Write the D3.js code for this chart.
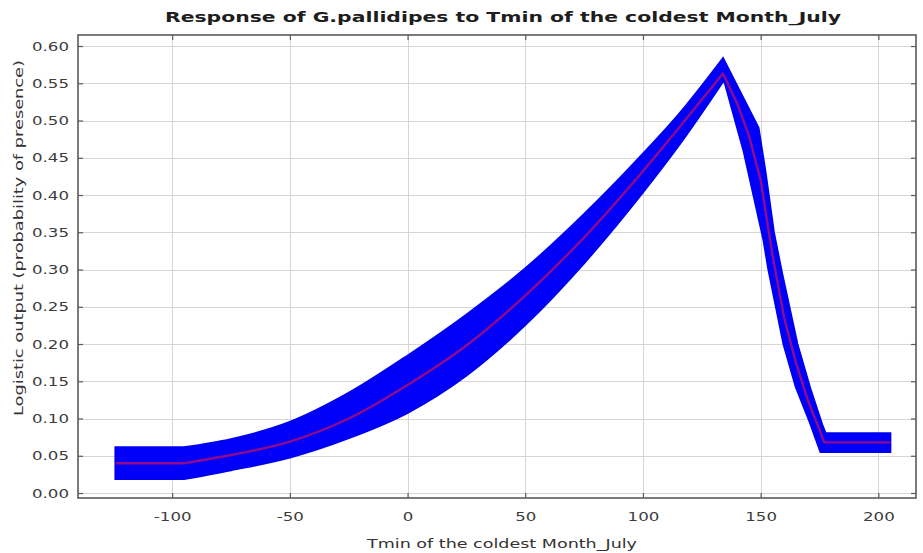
<!DOCTYPE html>
<html>
<head>
<meta charset="utf-8">
<script src="https://cdn.jsdelivr.net/npm/d3@7"></script>
<style>
  html, body { margin: 0; padding: 0; background: #fff; }
  svg { display: block; }
</style>
</head>
<body>
<svg id="chart" width="923" height="553"></svg>
<script>
// Response curve: mean logistic output (red) with +/- one standard deviation band (blue)
const chartTitle = "Response of G.pallidipes to Tmin of the coldest Month_July";
const xTitle = "Tmin of the coldest Month_July";
const yTitle = "Logistic output (probability of presence)";

const xTicks = [-100, -50, 0, 50, 100, 150, 200];
const yTicks = [0.00, 0.05, 0.10, 0.15, 0.20, 0.25, 0.30, 0.35, 0.40, 0.45, 0.50, 0.55, 0.60];

// [Tmin, probability] along the mean response
const meanCurve = [
  [-124, 0.040], [-95, 0.040], [-75, 0.051], [-50, 0.069], [-25, 0.100],
  [0, 0.145], [25, 0.198], [50, 0.265], [75, 0.343], [100, 0.432],
  [115, 0.489], [134, 0.563], [140, 0.523], [145, 0.480], [150, 0.420],
  [155, 0.320], [160, 0.235], [165, 0.175], [170, 0.125], [175, 0.085],
  [177, 0.068], [205, 0.068]
];

// upper / right edge of the spread band
const upperEdge = [
  [-124, 0.061], [-95, 0.061], [-75, 0.072], [-50, 0.095], [-25, 0.134],
  [0, 0.184], [25, 0.239], [50, 0.301], [75, 0.374], [100, 0.455],
  [115, 0.507], [134, 0.583], [149, 0.490], [152, 0.430], [155.5, 0.350],
  [159, 0.295], [165.5, 0.200], [171, 0.140], [176, 0.092], [177.5, 0.080],
  [205, 0.080]
];

// lower / left edge of the spread band
const lowerEdge = [
  [-124, 0.019], [-95, 0.019], [-75, 0.031], [-50, 0.048], [-25, 0.074],
  [0, 0.108], [25, 0.158], [50, 0.226], [75, 0.309], [100, 0.404],
  [115, 0.466], [134.5, 0.555], [142.8, 0.460], [151.3, 0.340], [153.4, 0.300],
  [159.8, 0.200], [165, 0.143], [171, 0.095], [175.5, 0.0555], [205, 0.0555]
];

const svg = d3.select("#chart");
const plot = { left: 78, right: 916, top: 35, bottom: 498 };
const stretch = 1.33; // horizontal widening applied to the tick label glyphs

const x = d3.scaleLinear().domain([-140, 216]).range([plot.left, plot.right]);
const y = d3.scaleLinear().domain([-0.0067, 0.6148]).range([plot.bottom, plot.top]);

const fontFamily = "'DejaVu Sans', Verdana, sans-serif";

// the rising limb is drawn as a smooth monotone curve; the plateaus and
// the steep falling limb keep straight segments between readings
const smooth = d3.line().x(d => x(d[0])).y(d => y(d[1])).curve(d3.curveMonotoneX);
const straight = d3.line().x(d => x(d[0])).y(d => y(d[1]));
function join(parts) {
  return parts.map((p, k) => (k === 0 ? p : p.replace(/^M/, "L"))).join("");
}
function responsePath(pts) {
  const peak = d3.maxIndex(pts, d => d[1]);
  return join([
    straight(pts.slice(0, 2)),
    smooth(pts.slice(1, peak + 1)),
    straight(pts.slice(peak))
  ]);
}

// grid
const grid = svg.append("g").attr("stroke", "#d6d6d6").attr("stroke-width", 1);
grid.selectAll("line.v").data(xTicks).join("line")
  .attr("x1", d => Math.round(x(d)) + 0.5).attr("x2", d => Math.round(x(d)) + 0.5)
  .attr("y1", plot.top).attr("y2", plot.bottom);
grid.selectAll("line.h").data(yTicks).join("line")
  .attr("y1", d => Math.round(y(d)) + 0.5).attr("y2", d => Math.round(y(d)) + 0.5)
  .attr("x1", plot.left).attr("x2", plot.right);

// spread band: upper edge left to right, then lower edge right to left
const upperPath = responsePath(upperEdge);
const lowerPeak = d3.maxIndex(lowerEdge, d => d[1]);
const lowerBack = join([
  straight(lowerEdge.slice(lowerPeak).reverse()),
  smooth(lowerEdge.slice(1, lowerPeak + 1).reverse()),
  straight(lowerEdge.slice(0, 2).reverse())
]);
svg.append("path")
  .attr("d", upperPath + lowerBack.replace(/^M/, "L") + "Z")
  .attr("fill", "#0000fa")
  .attr("stroke", "#0000f0")
  .attr("stroke-width", 2.5)
  .attr("stroke-linejoin", "miter");

// mean response
svg.append("path")
  .attr("d", responsePath(meanCurve))
  .attr("fill", "none")
  .attr("stroke", "#e8104a")
  .attr("stroke-opacity", 0.62)
  .attr("stroke-width", 2.4)
  .attr("stroke-linejoin", "round");

// axes with inward ticks on all four sides
const tickLen = 5;
const axisColor = "#5a5a5a";
const plainNumber = d => String(d);
const xBottom = d3.axisBottom(x).tickValues(xTicks).tickSizeInner(-tickLen).tickSizeOuter(0).tickPadding(14).tickFormat(plainNumber);
const xTop = d3.axisTop(x).tickValues(xTicks).tickSizeInner(-tickLen).tickSizeOuter(0).tickFormat("");
const yLeft = d3.axisLeft(y).tickValues(yTicks).tickSizeInner(-tickLen).tickSizeOuter(0).tickPadding(9).tickFormat(d3.format(".2f"));
const yRight = d3.axisRight(y).tickValues(yTicks).tickSizeInner(-tickLen).tickSizeOuter(0).tickFormat("");

function styleAxis(g) {
  g.select(".domain").remove();
  g.selectAll(".tick line").attr("stroke", axisColor).attr("stroke-width", 1.2);
  g.selectAll(".tick text")
    .attr("fill", "#3c3c3c")
    .attr("font-family", fontFamily)
    .attr("font-size", 12.5);
}

svg.append("g").attr("transform", `translate(0,${plot.bottom})`).call(xBottom).call(styleAxis);
svg.append("g").attr("transform", `translate(0,${plot.top})`).call(xTop).call(styleAxis);
svg.append("g").attr("transform", `translate(${plot.left},0)`).call(yLeft).call(styleAxis);
svg.append("g").attr("transform", `translate(${plot.right},0)`).call(yRight).call(styleAxis);

// frame
svg.append("rect")
  .attr("x", plot.left).attr("y", plot.top)
  .attr("width", plot.right - plot.left).attr("height", plot.bottom - plot.top)
  .attr("fill", "none").attr("stroke", axisColor).attr("stroke-width", 1.6);

// widen tick labels
svg.selectAll(".tick text").each(function () {
  const len = this.getComputedTextLength();
  if (len > 0) {
    d3.select(this).attr("textLength", len * stretch).attr("lengthAdjust", "spacingAndGlyphs");
  }
});

// titles
svg.append("text")
  .attr("x", 503).attr("y", 22)
  .attr("text-anchor", "middle")
  .attr("font-family", fontFamily).attr("font-weight", "bold").attr("font-size", 14.5)
  .attr("fill", "#1e1e1e")
  .attr("textLength", 676).attr("lengthAdjust", "spacingAndGlyphs")
  .text(chartTitle);

svg.append("text")
  .attr("x", 502).attr("y", 548)
  .attr("text-anchor", "middle")
  .attr("font-family", fontFamily).attr("font-size", 12)
  .attr("fill", "#333")
  .attr("textLength", 270).attr("lengthAdjust", "spacingAndGlyphs")
  .text(xTitle);

svg.append("text")
  .attr("transform", "translate(23,238) rotate(-90)")
  .attr("text-anchor", "middle")
  .attr("font-family", fontFamily).attr("font-size", 12)
  .attr("fill", "#333")
  .attr("textLength", 356).attr("lengthAdjust", "spacingAndGlyphs")
  .text(yTitle);
</script>
</body>
</html>
